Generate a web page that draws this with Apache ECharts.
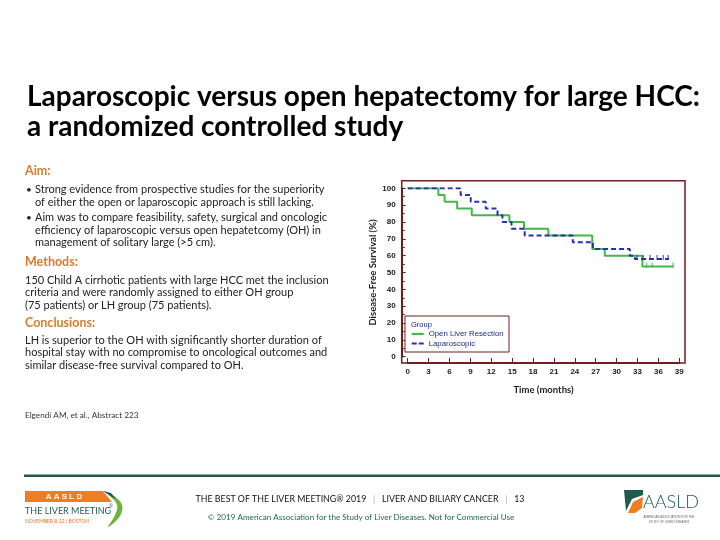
<!DOCTYPE html>
<html><head><meta charset="utf-8">
<script src="https://cdn.jsdelivr.net/npm/echarts@6/dist/echarts.min.js"></script>
<style>html,body{margin:0;padding:0;background:#fff}#c{width:720px;height:540px}</style>
</head><body><div id="c"></div>
<script>
// ---- data ----
const openTimes  = [0, 4.4, 5.3, 7.1, 9.2, 14.6, 16.7, 20.2, 26.5, 28.3, 33.7, 38.2];
const openSurv   = [100, 96, 92, 88, 84, 80, 76, 72, 64, 60, 53.5, 53.5];
const lapTimes   = [0, 7.6, 9.05, 11.2, 12.9, 13.6, 14.9, 16.8, 23.7, 26.6, 31.9, 32.6, 37.5];
const lapSurv    = [100, 96, 92, 88, 84, 80, 76, 72, 68, 64, 60, 58, 58];
const openCensor = [34.3, 35.1, 38.1];
const lapCensor  = [32.9, 33.8, 34.8, 35.8, 36.7, 37.4];
const seriesNames = ['Open Liver Resection', 'Laparoscopic'];

const titleLines = ['Laparoscopic versus open hepatectomy for large HCC:', 'a randomized controlled study'];
const bodyBlocks = [
  {t:'h', s:'Aim:', y:171},
  {t:'b', s:'Strong evidence from prospective studies for the superiority', y:189.5},
  {t:'c', s:'of either the open or laparoscopic approach is still lacking.', y:202},
  {t:'b', s:'Aim was to compare feasibility, safety, surgical and oncologic', y:217.5},
  {t:'c', s:'efficiency of laparoscopic versus open hepatetcomy (OH) in', y:230},
  {t:'c', s:'management of solitary large (>5 cm).', y:242.5},
  {t:'h', s:'Methods:', y:262},
  {t:'p', s:'150 Child A cirrhotic patients with large HCC met the inclusion', y:280},
  {t:'p', s:'criteria and were randomly assigned to either OH group', y:292.5},
  {t:'p', s:'(75 patients) or LH group (75 patients).', y:305},
  {t:'h', s:'Conclusions:', y:323},
  {t:'p', s:'LH is superior to the OH with significantly shorter duration of', y:340},
  {t:'p', s:'hospital stay with no compromise to oncological outcomes and', y:352.5},
  {t:'p', s:'similar disease-free survival compared to OH.', y:365}
];
const refText = 'Elgendi AM, et al., Abstract 223';

function zip(a, b){ return a.map((v,i)=>[v, b[i]]); }
function survAt(times, surv, t){ let s = surv[0]; for (let i=0;i<times.length;i++){ if (times[i] <= t) s = surv[i]; } return s; }

const GREEN = '#45b649', BLUE = '#2433a8', FRAME = '#6e1f1f', ORANGE = '#d97b2f', TEAL = '#1f5b4d';
const BODYFONT = 'Lato';

const graphics = [];
titleLines.forEach((s,i)=>graphics.push({type:'text', x:27, y:97+i*30, style:{text:s, font:'bold 28px Lato', fill:'#000', verticalAlign:'middle'}}));
bodyBlocks.forEach(b=>{
  if (b.t==='h') graphics.push({type:'text', x:25, y:b.y, style:{text:b.s, font:'bold 12.5px '+BODYFONT, fill:ORANGE, verticalAlign:'middle'}});
  else {
    if (b.t==='b') graphics.push({type:'text', x:26, y:b.y, style:{text:'•', font:'10px '+BODYFONT, fill:'#222', verticalAlign:'middle'}});
    graphics.push({type:'text', x:(b.t==='p'?25:35), y:b.y, style:{text:b.s, font:'11px '+BODYFONT, fill:'#222', verticalAlign:'middle'}});
  }
});
graphics.push({type:'text', x:25, y:415, style:{text:refText, font:'8.2px '+BODYFONT, fill:'#333', verticalAlign:'middle'}});
// chart frame and legend box
graphics.push({type:'rect', shape:{x:401.7, y:180.7, width:283.3, height:182.3}, style:{fill:null, stroke:FRAME, lineWidth:1.5}, z:10});
graphics.push({type:'rect', shape:{x:405, y:316, width:104, height:36}, style:{fill:'#fff', stroke:FRAME, lineWidth:1}, z:11});
graphics.push({type:'text', x:411, y:325, style:{text:'Group', font:'7.5px Liberation Sans', fill:'#1c2a8a', verticalAlign:'middle'}, z:12});
// footer
graphics.push({type:'line', shape:{x1:24, y1:475.7, x2:720, y2:475.7}, style:{stroke:TEAL, lineWidth:2.5}});
graphics.push({type:'text', x:360, y:499, style:{
  text:'{a|THE BEST OF THE LIVER MEETING® 2019}{s|   |   }{a|LIVER AND BILIARY CANCER}{s|   |   }{a|13}',
  rich:{a:{font:'8.8px Lato', fill:'#111'}, s:{font:'8.8px Lato', fill:'#aaa'}}, align:'center', verticalAlign:'middle'}});
graphics.push({type:'text', x:361, y:517.5, style:{text:'© 2019 American Association for the Study of Liver Diseases. Not for Commercial Use', font:'8.1px Lato', fill:'#1e6b50', align:'center', verticalAlign:'middle'}});
// left logo
graphics.push({type:'polygon', shape:{points:[[25,491],[103,491],[112,502],[25,502]]}, style:{fill:'#ef7d22'}});
graphics.push({type:'text', x:64, y:496.8, style:{text:'A A S L D', font:'bold 8px Liberation Sans', fill:'#fff', align:'center', verticalAlign:'middle'}});
graphics.push({type:'text', x:25, y:511, style:{text:'THE LIVER MEETING', font:'9px Lato', fill:TEAL, verticalAlign:'middle'}});
graphics.push({type:'text', x:109, y:507, style:{text:'®', font:'5px Liberation Sans', fill:TEAL, verticalAlign:'middle'}});
graphics.push({type:'text', x:25, y:521.5, style:{text:'NOVEMBER 8-12 | BOSTON', font:'5px Lato', fill:'#e8742a', verticalAlign:'middle'}});
graphics.push({type:'polygon', shape:{points:[[104,491],[114,496],[122,505],[120,516],[108,527],[115,515],[117,505],[110,496]], smooth:0.4}, style:{fill:'#6db33f'}});
graphics.push({type:'polygon', shape:{points:[[103,491],[111,493],[116,499],[112,497]]}, style:{fill:TEAL}});
// right logo
graphics.push({type:'polygon', shape:{points:[[624,490],[643,490],[643,495],[632,499],[626,511]]}, style:{fill:TEAL}});
graphics.push({type:'polygon', shape:{points:[[628,513],[633,502],[643,497],[642,508],[635,513]]}, style:{fill:'#ef7d22'}});
graphics.push({type:'text', x:643, y:502.5, style:{text:'AASLD', font:'300 18px Lato', fill:TEAL, verticalAlign:'middle'}});
graphics.push({type:'text', x:669, y:517, style:{text:'AMERICAN ASSOCIATION FOR THE', font:'3px Liberation Sans', fill:'#666', align:'center', verticalAlign:'middle'}});
graphics.push({type:'text', x:669, y:522, style:{text:'STUDY OF LIVER DISEASES', font:'3px Liberation Sans', fill:'#666', align:'center', verticalAlign:'middle'}});

const axisLabelStyle = {fontSize:8, fontWeight:'bold', color:'#222', fontFamily:'Liberation Sans'};
const option = {
  animation:false,
  backgroundColor:'#fff',
  grid:{left:407.7, right:720-679.3, top:188.3, bottom:540-356.7, containLabel:false},
  xAxis:{type:'value', min:0, max:39, interval:3, offset:6.3,
    axisLine:{show:true, onZero:false, lineStyle:{color:FRAME, width:2}},
    axisTick:{show:true, inside:true, length:5, lineStyle:{color:FRAME, width:1}},
    axisLabel:Object.assign({margin:5}, axisLabelStyle),
    splitLine:{show:false},
    name:'Time (months)', nameLocation:'middle', nameGap:22,
    nameTextStyle:{fontSize:9.5, fontWeight:'bold', color:'#222', fontFamily:'Lato'}},
  yAxis:{type:'value', min:0, max:100, interval:10, offset:6,
    axisLine:{show:true, onZero:false, lineStyle:{color:FRAME, width:2}},
    axisTick:{show:true, inside:true, length:4, lineStyle:{color:FRAME, width:1}},
    minorTick:{show:true, splitNumber:2, length:3, lineStyle:{color:FRAME, width:1}},
    axisLabel:Object.assign({margin:6}, axisLabelStyle),
    splitLine:{show:false},
    name:'Disease-Free Survival (%)', nameLocation:'middle', nameGap:24,
    nameTextStyle:{fontSize:9.5, fontWeight:'bold', color:'#222', fontFamily:'Lato'}},
  legend:{
    data:[
      {name:seriesNames[0], icon:'rect', itemStyle:{color:GREEN}},
      {name:seriesNames[1], icon:'path://M0,0H5V2H0Z M7,0H12V2H7Z', itemStyle:{color:BLUE}}
    ],
    orient:'vertical', left:411.7, top:330, itemWidth:12, itemHeight:2.2, itemGap:1.5, padding:0,
    textStyle:{fontSize:7.8, color:'#1c2a8a', fontFamily:'Liberation Sans'}, z:13, selectedMode:false},
  series:[
    {type:'line', name:seriesNames[0], step:'end', symbol:'none', data:zip(openTimes, openSurv),
     lineStyle:{color:GREEN, width:2}, itemStyle:{color:GREEN}, z:3},
    {type:'line', name:seriesNames[1], step:'end', symbol:'none', data:zip(lapTimes, lapSurv),
     lineStyle:{color:BLUE, width:2, type:[5,3]}, itemStyle:{color:BLUE}, z:4},
    {type:'scatter', name:'open-censor', symbol:'rect', symbolSize:[1.2,5], symbolOffset:[0,-1.5],
     data:openCensor.map(t=>[t, survAt(openTimes, openSurv, t)]), itemStyle:{color:GREEN}, z:3},
    {type:'scatter', name:'lap-censor', symbol:'rect', symbolSize:[1.2,5], symbolOffset:[0,-1.5],
     data:lapCensor.map(t=>[t, survAt(lapTimes, lapSurv, t)]), itemStyle:{color:BLUE}, z:4}
  ],
  graphic:graphics
};
const chart = echarts.init(document.getElementById('c'), null, {renderer:'canvas'});
chart.setOption(option);
</script>
</body></html>
